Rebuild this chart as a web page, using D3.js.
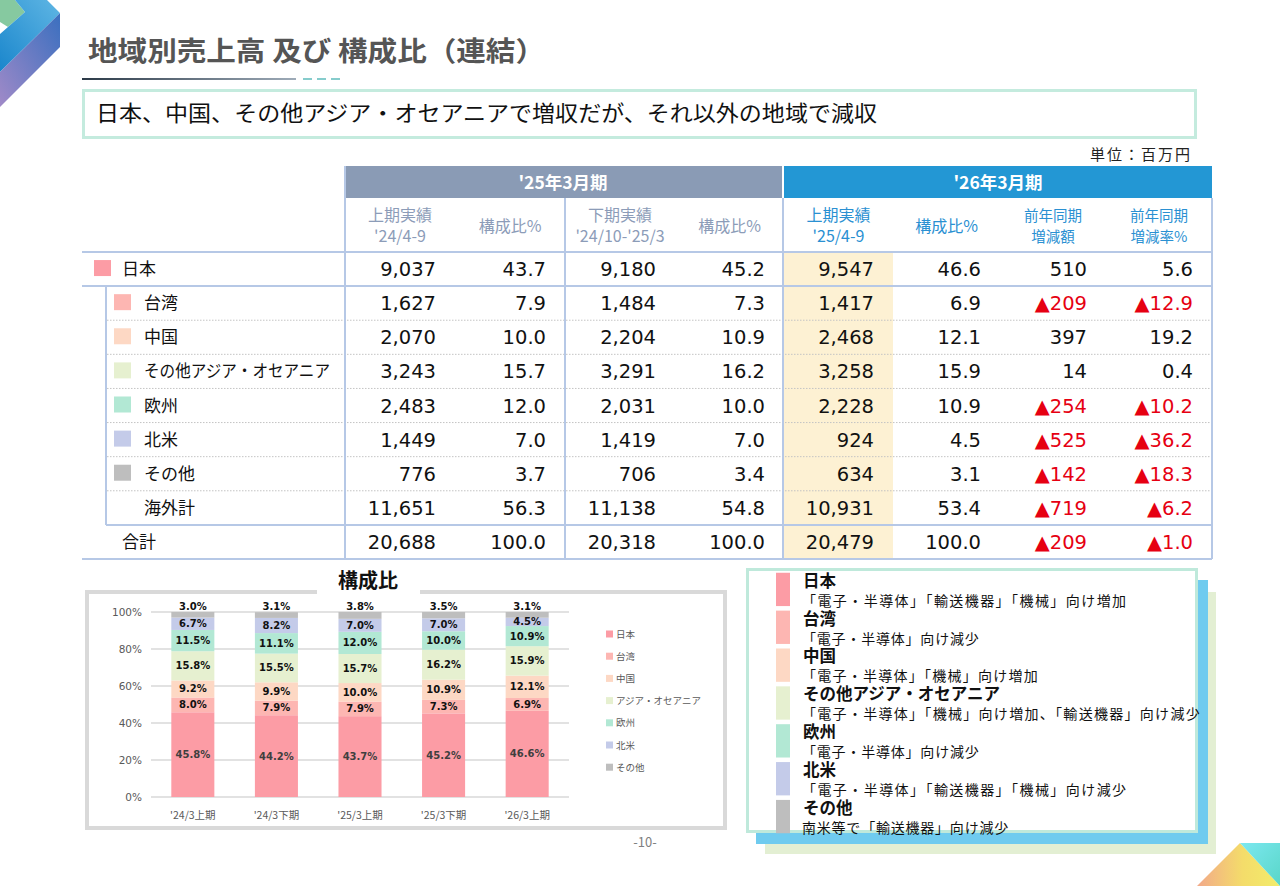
<!DOCTYPE html>
<html>
<head>
<meta charset="utf-8">
<script src="https://cdn.jsdelivr.net/npm/d3@7"></script>
<style>
  body { margin: 0; background: #fff; }
  svg { display: block; }
  text { font-family: "Noto Sans CJK JP", "Noto Sans", sans-serif; }
  .num { font-family: "DejaVu Sans", Verdana, sans-serif; }
</style>
</head>
<body>
<script>
// ---- data ----
const regions = ['日本', '台湾', '中国', 'その他アジア・オセアニア', '欧州', '北米', 'その他']
const regionColors = ['#fc9ca5', '#fdb6b2', '#fdd8c4', '#e6f0d0', '#b2e8d4', '#c4cbe9', '#bebebe']
const rowLabels = ['日本', '台湾', '中国', 'その他アジア・オセアニア', '欧州', '北米', 'その他', '海外計', '合計']

const sales1H24 = [9037, 1627, 2070, 3243, 2483, 1449, 776, 11651, 20688]
const ratio1H24 = [43.7, 7.9, 10.0, 15.7, 12.0, 7.0, 3.7, 56.3, 100.0]
const sales2H24 = [9180, 1484, 2204, 3291, 2031, 1419, 706, 11138, 20318]
const ratio2H24 = [45.2, 7.3, 10.9, 16.2, 10.0, 7.0, 3.4, 54.8, 100.0]
const sales1H25 = [9547, 1417, 2468, 3258, 2228, 924, 634, 10931, 20479]
const ratio1H25 = [46.6, 6.9, 12.1, 15.9, 10.9, 4.5, 3.1, 53.4, 100.0]
const yoyDiff = [510, -209, 397, 14, -254, -525, -142, -719, -209]
const yoyRate = [5.6, -12.9, 19.2, 0.4, -10.2, -36.2, -18.3, -6.2, -1.0]

const periods = ["'24/3上期", "'24/3下期", "'25/3上期", "'25/3下期", "'26/3上期"]
const legendNames = ['日本', '台湾', '中国', 'アジア・オセアニア', '欧州', '北米', 'その他']
const shareJapan  = [45.8, 44.2, 43.7, 45.2, 46.6]
const shareTaiwan = [8.0, 7.9, 7.9, 7.3, 6.9]
const shareChina  = [9.2, 9.9, 10.0, 10.9, 12.1]
const shareAsia   = [15.8, 15.5, 15.7, 16.2, 15.9]
const shareEurope = [11.5, 11.1, 12.0, 10.0, 10.9]
const shareNA     = [6.7, 8.2, 7.0, 7.0, 4.5]
const shareOther  = [3.0, 3.1, 3.8, 3.5, 3.1]
const yTicks = [0, 20, 40, 60, 80, 100]

const notes = [
  '「電子・半導体」「輸送機器」「機械」向け増加',
  '「電子・半導体」向け減少',
  '「電子・半導体」「機械」向け増加',
  '「電子・半導体」「機械」向け増加、「輸送機器」向け減少',
  '「電子・半導体」向け減少',
  '「電子・半導体」「輸送機器」「機械」向け減少',
  '南米等で「輸送機器」向け減少'
]

const W = 1280, H = 886
const svg = d3.select('body').append('svg').attr('width', W).attr('height', H)
const defs = svg.append('defs')

function grad(id, stops, x1, y1, x2, y2) {
  const g = defs.append('linearGradient').attr('id', id)
    .attr('x1', x1).attr('y1', y1).attr('x2', x2).attr('y2', y2)
  stops.forEach(s => g.append('stop').attr('offset', s[0]).attr('stop-color', s[1]))
}
grad('gTop', [[0, '#1a86cc'], [1, '#5fb6e4']], 0, 1, 1, 0)
grad('gSide', [[0, '#a08ac8'], [1, '#3a6fbf']], 0, 1, 1, 0)
grad('gLine', [[0, '#2c3a48'], [1, '#9eabb8']], 0, 0, 1, 0)
grad('gTri', [[0, '#f2a98a'], [0.55, '#f4dc6a'], [1, '#f2ec6a']], 0, 0, 1, 0)
grad('gCyan', [[0, '#7ce8f0'], [1, '#59d6c8']], 0, 0, 1, 1)

// ---- decorations ----
const poly = pts => pts.map(p => p.join(',')).join(' ')
svg.append('polygon').attr('points', poly([[0, 0], [15, 0], [25, 12], [8, 27], [0, 22]])).attr('fill', '#86c9a0')
svg.append('polygon').attr('points', poly([[15, 0], [47, 0], [60, 13], [0, 72], [0, 34], [8, 27], [25, 12]])).attr('fill', 'url(#gTop)')
svg.append('polygon').attr('points', poly([[60, 13], [60, 47], [0, 107], [0, 72]])).attr('fill', 'url(#gSide)')

svg.append('polygon').attr('points', poly([[1197, 886], [1240, 843], [1280, 886]])).attr('fill', 'url(#gTri)')
svg.append('polygon').attr('points', poly([[1240, 843], [1280, 843], [1280, 886]])).attr('fill', 'url(#gCyan)')

// ---- title ----
svg.append('text').attr('x', 88).attr('y', 61)
  .attr('font-size', 27).attr('font-weight', 'bold').attr('fill', '#555')
  .attr('textLength', 457).attr('lengthAdjust', 'spacingAndGlyphs')
  .text('地域別売上高 及び 構成比（連結）')
svg.append('rect').attr('x', 82).attr('y', 78).attr('width', 214).attr('height', 2).attr('fill', 'url(#gLine)')
;[303, 317, 331].forEach(x => svg.append('rect').attr('x', x).attr('y', 78).attr('width', 9).attr('height', 2).attr('fill', '#86cccc'))

svg.append('rect').attr('x', 83.5).attr('y', 90.5).attr('width', 1112).attr('height', 47)
  .attr('fill', '#fff').attr('stroke', '#c4ebde').attr('stroke-width', 3)
svg.append('text').attr('x', 96).attr('y', 121).attr('font-size', 21.5).attr('fill', '#111')
  .attr('textLength', 781).attr('lengthAdjust', 'spacingAndGlyphs')
  .text('日本、中国、その他アジア・オセアニアで増収だが、それ以外の地域で減収')

svg.append('text').attr('x', 1190).attr('y', 160).attr('text-anchor', 'end')
  .attr('font-size', 15).attr('fill', '#222')
  .attr('textLength', 100).attr('lengthAdjust', 'spacing').text('単位：百万円')

// ---- table ----
const colEdges = [345, 455, 565, 675, 784, 893, 1000, 1106, 1212]
const lineColor = '#b6c8e6'
const row = d3.scaleBand().domain(d3.range(rowLabels.length)).range([252, 559])
const tbl = svg.append('g')

tbl.append('rect').attr('x', 345).attr('y', 166).attr('width', 437).attr('height', 32).attr('fill', '#8a9bb5')
tbl.append('rect').attr('x', 784).attr('y', 166).attr('width', 428).attr('height', 32).attr('fill', '#2397d4')
tbl.append('text').attr('x', 563).attr('y', 189).attr('text-anchor', 'middle')
  .attr('font-size', 17.5).attr('font-weight', 'bold').attr('fill', '#fff').text("'25年3月期")
tbl.append('text').attr('x', 998).attr('y', 189).attr('text-anchor', 'middle')
  .attr('font-size', 17.5).attr('font-weight', 'bold').attr('fill', '#fff').text("'26年3月期")

const headers = [
  [['上期実績', "'24/4-9"], '#8c9cb8', 16],
  [['構成比%'], '#8c9cb8', 16],
  [['下期実績', "'24/10-'25/3"], '#8c9cb8', 16],
  [['構成比%'], '#8c9cb8', 16],
  [['上期実績', "'25/4-9"], '#2a90d2', 16],
  [['構成比%'], '#2a90d2', 16],
  [['前年同期', '増減額'], '#2a90d2', 14.5],
  [['前年同期', '増減率%'], '#2a90d2', 14.5]
]
headers.forEach((h, i) => {
  const cx = (colEdges[i] + colEdges[i + 1]) / 2
  const lines = h[0]
  lines.forEach((t, j) => {
    const y = lines.length === 1 ? 232 : 221 + j * 21
    tbl.append('text').attr('x', cx).attr('y', y).attr('text-anchor', 'middle')
      .attr('font-size', h[2]).attr('fill', h[1]).text(t)
  })
})

// highlight column
tbl.append('rect').attr('x', 784).attr('y', 252).attr('width', 109).attr('height', 307).attr('fill', '#fdf1d3')

// grid lines
const hline = (x1, x2, y, dotted) => tbl.append('line').attr('x1', x1).attr('x2', x2).attr('y1', y).attr('y2', y)
  .attr('stroke', dotted ? '#c4c4c4' : lineColor).attr('stroke-width', dotted ? 1 : 2)
  .attr('stroke-dasharray', dotted ? '1.5,1.5' : null)
hline(82, 1212, row(0), false)
hline(82, 1212, row(1), false)
for (let i = 2; i <= 7; i++) hline(107, 1212, row(i), true)
hline(106, 1212, row(8), false)
hline(82, 1212, row(8) + row.bandwidth(), false)
const vline = (x, y1, y2) => tbl.append('line').attr('x1', x).attr('x2', x).attr('y1', y1).attr('y2', y2)
  .attr('stroke', lineColor).attr('stroke-width', 2)
vline(345, 166, 559)
vline(565, 198, 559)
vline(783, 198, 559)
vline(1212, 198, 559)
vline(106, row(1), row(8))

const fmtInt = d3.format(',')
const fmtPct = d3.format('.1f')
const cols = [
  [sales1H24, fmtInt], [ratio1H24, fmtPct], [sales2H24, fmtInt], [ratio2H24, fmtPct],
  [sales1H25, fmtInt], [ratio1H25, fmtPct], [yoyDiff, fmtInt], [yoyRate, fmtPct]
]

rowLabels.forEach((lab, i) => {
  const cy = row(i) + row.bandwidth() / 2
  const isTop = i === 0 || i === 8
  const tx = isTop ? 122 : 144
  if (i < 7) {
    tbl.append('rect').attr('x', isTop ? 94 : 114).attr('y', cy - 9).attr('width', 17).attr('height', 16)
      .attr('fill', regionColors[i])
  }
  const t = tbl.append('text').attr('x', tx).attr('y', cy + 6).attr('font-size', 17).attr('fill', '#111').text(lab)
  if (lab.length > 8) t.attr('textLength', 186).attr('lengthAdjust', 'spacingAndGlyphs')
  cols.forEach((c, j) => {
    const v = c[0][i]
    const neg = v < 0
    tbl.append('text').attr('class', 'num').attr('x', colEdges[j + 1] - 19).attr('y', cy + 7)
      .attr('text-anchor', 'end').attr('font-size', 19.5).attr('fill', neg ? '#e60012' : '#111')
      .text((neg ? '▲' : '') + c[1](Math.abs(v)))
  })
})

// ---- composition chart ----
svg.append('rect').attr('x', 87).attr('y', 592).attr('width', 638).attr('height', 236)
  .attr('fill', '#fff').attr('stroke', '#d9d9d9').attr('stroke-width', 4)
svg.append('rect').attr('x', 317).attr('y', 585).attr('width', 103).attr('height', 12).attr('fill', '#fff')
svg.append('text').attr('x', 368).attr('y', 588).attr('text-anchor', 'middle')
  .attr('font-size', 20).attr('font-weight', 'bold').attr('fill', '#111').text('構成比')

const x = d3.scaleBand().domain(periods).range([151, 569]).paddingInner(0.485).paddingOuter(0.243)
const y = d3.scaleLinear().domain([0, 100]).range([797, 612])
const chart = svg.append('g')

chart.selectAll('line.grid').data(yTicks).enter().append('line')
  .attr('x1', 151).attr('x2', 569).attr('y1', d => y(d)).attr('y2', d => y(d))
  .attr('stroke', '#d9d9d9').attr('stroke-width', 1.5)

const yAxis = chart.append('g').attr('transform', 'translate(145,0)')
  .call(d3.axisLeft(y).tickValues(yTicks).tickFormat(d => d + '%').tickSize(0))
yAxis.select('.domain').remove()
yAxis.selectAll('text').attr('class', 'num').attr('font-size', 10.5).attr('fill', '#595959')
  .attr('font-family', '"DejaVu Sans", Verdana, sans-serif')

const xAxis = chart.append('g').attr('transform', 'translate(0,807)')
  .call(d3.axisBottom(x).tickSize(0))
xAxis.select('.domain').remove()
xAxis.selectAll('text').attr('font-size', 10.5).attr('fill', '#595959').attr('dy', '0.9em')
  .attr('font-family', '"Noto Sans CJK JP", sans-serif')

const shares = [shareJapan, shareTaiwan, shareChina, shareAsia, shareEurope, shareNA, shareOther]
const table = periods.map((p, i) => {
  const o = { period: p }
  regions.forEach((r, k) => { o[r] = shares[k][i] })
  return o
})
const stack = d3.stack().keys(regions)(table)

const layer = chart.selectAll('g.layer').data(stack).enter().append('g').attr('fill', (d, k) => regionColors[k])
layer.selectAll('rect').data(d => d).enter().append('rect')
  .attr('x', d => x(d.data.period)).attr('width', x.bandwidth())
  .attr('y', d => y(Math.min(d[1], 100))).attr('height', d => y(d[0]) - y(Math.min(d[1], 100)))

stack.forEach((s, k) => {
  chart.selectAll(null).data(s).enter().append('text')
    .attr('class', 'num')
    .attr('x', d => x(d.data.period) + x.bandwidth() / 2)
    .attr('y', d => (k === regions.length - 1 ? y(100) - 6 : y((d[0] + d[1]) / 2)) + 3.5)
    .attr('text-anchor', 'middle').attr('font-size', 10).attr('font-weight', 'bold')
    .attr('fill', k === 0 ? '#3f3f3f' : '#111')
    .text(d => fmtPct(d.data[regions[k]]) + '%')
})

const lg = chart.selectAll('g.lg').data(legendNames).enter().append('g')
  .attr('transform', (d, i) => `translate(606,${634 + i * 22.2})`)
lg.append('rect').attr('x', 0).attr('y', -3.5).attr('width', 7).attr('height', 7).attr('fill', (d, i) => regionColors[i])
lg.append('text').attr('x', 10).attr('y', 3.5).attr('font-size', 9.5).attr('fill', '#595959').text(d => d)

svg.append('text').attr('x', 645).attr('y', 847).attr('text-anchor', 'middle')
  .attr('font-size', 13).attr('fill', '#7f7f7f').text('-10-')

// ---- commentary box ----
svg.append('rect').attr('x', 765).attr('y', 592).attr('width', 451).attr('height', 262).attr('fill', '#e3efd3')
svg.append('rect').attr('x', 756).attr('y', 580).attr('width', 452).attr('height', 264).attr('fill', '#6fcbef')
svg.append('rect').attr('x', 747.5).attr('y', 569.5).attr('width', 449).attr('height', 262)
  .attr('fill', '#fff').attr('stroke', '#bfe9db').attr('stroke-width', 3)

const nb = d3.scaleBand().domain(regions).range([572, 834]).paddingInner(0.12).paddingOuter(0.02)
const note = svg.selectAll('g.note').data(regions).enter().append('g')
  .attr('transform', d => `translate(0,${nb(d)})`)
note.append('rect').attr('x', 776).attr('y', 0).attr('width', 14).attr('height', nb.bandwidth())
  .attr('fill', (d, i) => regionColors[i])
note.append('text').attr('x', 803).attr('y', 14).attr('font-size', 16.5).attr('font-weight', 'bold')
  .attr('fill', '#111').text(d => d)
note.append('text').attr('x', 802).attr('y', 33).attr('font-size', 14).attr('fill', '#111')
  .attr('textLength', (d, i) => notes[i].length * 14.73).attr('lengthAdjust', 'spacing')
  .text((d, i) => notes[i])
</script>
</body>
</html>
